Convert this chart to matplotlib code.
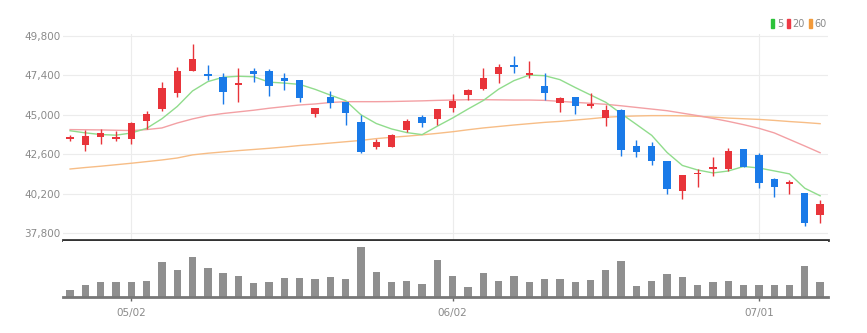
import numpy as np
import matplotlib.pyplot as plt
from matplotlib.patches import Patch

plt.rcParams['font.family'] = ['Liberation Sans Narrow', 'DejaVu Sans']

# daily OHLC
opens = [43550, 43160, 43630, 43545, 43550, 44620, 45370, 46310, 47670, 47480,
         47320, 46820, 47650, 47650, 47220, 47100, 45030, 46090, 45760, 44540,
         43060, 43060, 44075, 44850, 44730, 45430, 46190, 46550, 47470, 48050,
         47440, 46770, 45740, 46070, 45540, 44820, 45290, 43100, 43100, 42210,
         40380, 41380, 41700, 41720, 42900, 42550, 41070, 40790, 40260, 38900]
highs = [43750, 44070, 44150, 44030, 44560, 45230, 47020, 47930, 49310, 48030,
         47570, 47830, 47830, 47790, 47570, 47110, 45440, 46450, 45770, 44970,
         43510, 43830, 44770, 44990, 45340, 46250, 46550, 47830, 48100, 48580,
         48280, 47530, 46100, 46100, 46310, 45600, 45340, 43470, 43360, 42210,
         41340, 41680, 42450, 42960, 42910, 42660, 41170, 41030, 40260, 39810]
lows = [43400, 42820, 43220, 43400, 43220, 44160, 45210, 46100, 47670, 47120,
        45660, 45800, 46980, 46150, 46510, 45800, 44850, 45400, 44380, 42690,
        42900, 43060, 43935, 44280, 44380, 45190, 45900, 46510, 46960, 47570,
        47220, 45900, 45190, 45030, 45400, 44320, 42490, 42450, 41940, 40180,
        39860, 40620, 41290, 41580, 41800, 40520, 39980, 40180, 38230, 38390]
closes = [43650, 43710, 43910, 43670, 44520, 45070, 46630, 47650, 48400, 47360,
          46410, 46920, 47500, 46770, 47060, 46010, 45430, 45740, 45090, 42750,
          43350, 43770, 44620, 44480, 45340, 45840, 46490, 47220, 47930, 47930,
          47530, 46310, 46010, 45540, 45660, 45290, 42860, 42720, 42210, 40460,
          41330, 41480, 41820, 42800, 41840, 40870, 40590, 40910, 38430, 39550]

# volume, thousand shares
volume = [73, 117, 147, 153, 147, 163, 350, 273, 397, 290,
          243, 213, 140, 153, 190, 193, 180, 197, 177, 500,
          253, 147, 163, 127, 373, 213, 100, 243, 163, 210,
          147, 180, 180, 153, 170, 267, 360, 107, 163, 227,
          197, 120, 153, 163, 123, 123, 117, 120, 307, 147]

# moving averages
ma5 = [44030, 43900, 43800, 43760, 43892, 44176, 44760, 45508, 46454, 47022,
       47290, 47348, 47318, 46992, 46932, 46852, 46554, 46202, 45866, 45004,
       44472, 44140, 43916, 43794, 44312, 44810, 45354, 45874, 46564, 47082,
       47420, 47384, 47142, 46664, 46210, 45762, 45072, 44414, 43748, 42708,
       41916, 41640, 41460, 41578, 41854, 41762, 41584, 41402, 40528, 40070]
ma20 = [44100, 44090, 44080, 44060, 44040, 44100, 44200, 44500, 44750, 44950,
        45080, 45180, 45280, 45400, 45500, 45600, 45660, 45750, 45800, 45800,
        45800, 45810, 45830, 45850, 45880, 45900, 45920, 45920, 45910, 45900,
        45900, 45880, 45820, 45760, 45700, 45640, 45550, 45450, 45350, 45250,
        45100, 44950, 44780, 44600, 44400, 44180, 43900, 43500, 43100, 42690]
ma60 = [41700, 41790, 41870, 41960, 42050, 42150, 42250, 42370, 42560, 42660,
        42740, 42820, 42890, 42960, 43040, 43130, 43200, 43280, 43360, 43440,
        43550, 43630, 43700, 43780, 43870, 43970, 44090, 44200, 44290, 44380,
        44460, 44540, 44600, 44680, 44760, 44850, 44900, 44930, 44950, 44950,
        44940, 44910, 44860, 44800, 44760, 44720, 44660, 44590, 44530, 44460]

tick_pos = [4, 25, 45]
tick_labels = ['05/02', '06/02', '07/01']
price_ticks = [37800, 40200, 42600, 45000, 47400, 49800]

UP = '#e8343a'
DOWN = '#1a7ae8'

o = np.array(opens); h = np.array(highs); l = np.array(lows); c = np.array(closes)
x = np.arange(len(c))
colors = np.where(c >= o, UP, DOWN)

fig = plt.figure(figsize=(8.67, 3.33), dpi=100)
ax = fig.add_axes([0.0727, 0.2793, 0.8824, 0.6186])
axv = fig.add_axes([0.0727, 0.1081, 0.8824, 0.168], sharex=ax)

# price panel
ax.plot(x, ma60, color='#f7bd86', lw=1.0, zorder=2)
ax.plot(x, ma20, color='#f3a0a4', lw=1.0, zorder=2)
ax.plot(x, ma5, color='#90dc8c', lw=1.0, zorder=2)
ax.vlines(x, l, h, colors=colors, lw=1, zorder=3)
body = np.maximum(np.abs(c - o), 70)
ax.bar(x, body, bottom=np.minimum(o, c), width=0.48, color=colors, zorder=4)

ax.set_xlim(-0.46, 49.52)
ax.set_ylim(37376, 49922)
ax.set_yticks(price_ticks)
ax.set_yticklabels([f'{p:,}' for p in price_ticks])
ax.set_xticks(tick_pos)
ax.tick_params(axis='x', length=0, labelbottom=False)
ax.tick_params(axis='y', length=0, pad=2, labelsize=7.5, labelcolor='#8a8a8a')
ax.grid(True, color='#ececec', lw=0.8)
ax.set_axisbelow(True)
for s in ['top', 'right', 'left']:
    ax.spines[s].set_visible(False)
ax.spines['bottom'].set_color('#333333')
ax.spines['bottom'].set_linewidth(2)

# volume panel
axv.bar(x, volume, width=0.48, color='#8f8f8f')
axv.set_ylim(0, 560)
axv.set_yticks([])
axv.set_xticks(tick_pos)
axv.set_xticklabels(tick_labels)
axv.tick_params(axis='x', length=3, width=1, color='#666666', pad=5,
                labelsize=7.5, labelcolor='#8a8a8a')
for s in ['top', 'right', 'left']:
    axv.spines[s].set_visible(False)
axv.spines['bottom'].set_color('#777777')
axv.spines['bottom'].set_linewidth(2)

handles = [Patch(color='#2cc23a', label='5'),
           Patch(color='#ee3a46', label='20'),
           Patch(color='#f29a3a', label='60')]
fig.legend(handles=handles, loc='upper right', bbox_to_anchor=(0.964, 0.97),
           ncol=3, frameon=False, fontsize=7, handlelength=0.35,
           handleheight=1.0, handletextpad=0.25, columnspacing=0.4,
           labelcolor='#8a8a8a')

fig.savefig('out.png', dpi=100)
